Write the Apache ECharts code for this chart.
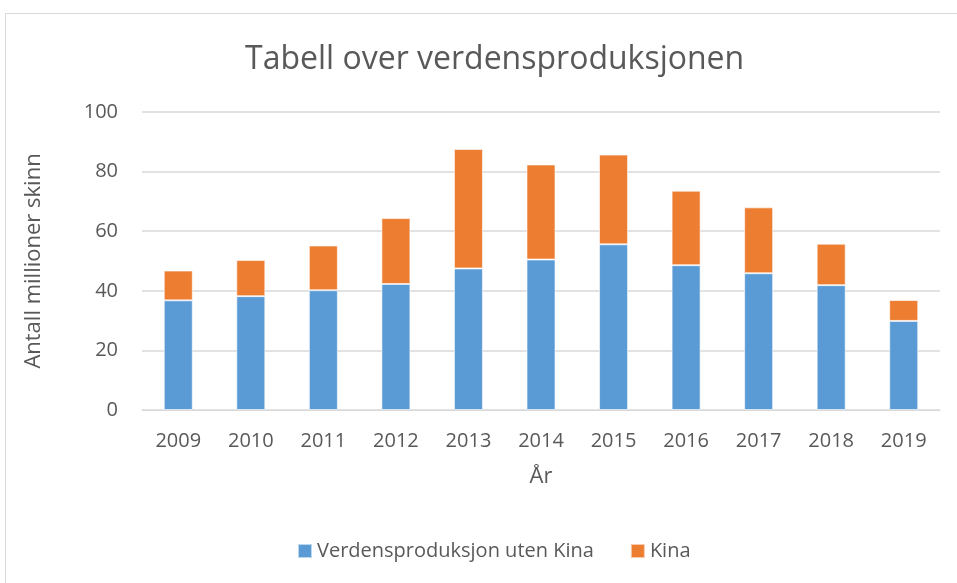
<!DOCTYPE html>
<html><head><meta charset="utf-8">
<script src="https://cdn.jsdelivr.net/npm/echarts@6/dist/echarts.min.js"></script>
<style>html,body{margin:0;padding:0;background:#fff}#c{width:957px;height:583px}</style>
</head><body><div id="c"></div>
<script>
const years = ['2009','2010','2011','2012','2013','2014','2015','2016','2017','2018','2019'];
const utenKina = [36.8, 38.2, 40.2, 42.3, 47.5, 50.5, 55.6, 48.6, 45.9, 41.9, 29.9];
const kina = [10.0, 12.1, 15.0, 22.1, 40.1, 31.9, 30.1, 25.0, 22.1, 13.9, 7.0];
const yTicks = [0, 20, 40, 60, 80, 100];

const font = 'Open Sans';
const txt = '#595959';
const chart = echarts.init(document.getElementById('c'), null, {renderer:'canvas'});
chart.setOption({
  animation: false,
  backgroundColor: '#fff',
  graphic: [{type:'rect', shape:{x:5.5,y:13.5,width:960,height:580}, style:{fill:'none', stroke:'#d9d9d9', lineWidth:1}, silent:true}],
  title: {text:'Tabell over verdensproduksjonen', left:240, top:39,
    textStyle:{fontFamily:font, fontSize:32, fontWeight:'normal', color:txt}},
  legend: {bottom:17, left:292, itemWidth:14, itemHeight:14, itemGap:36, icon:'rect',
    textStyle:{fontFamily:font, fontSize:20, color:txt}},
  grid: {left:142, right:17, top:112, bottom:173},
  xAxis: {type:'category', data:years, name:'År', nameLocation:'middle', nameGap:56,
    nameTextStyle:{fontFamily:font, fontSize:22, color:txt},
    axisLine:{lineStyle:{color:'#d9d9d9'}}, axisTick:{show:false},
    axisLabel:{fontFamily:font, fontSize:20, color:txt, margin:21}},
  yAxis: {type:'value', min:yTicks[0], max:yTicks[yTicks.length-1], interval:20,
    name:'Antall millioner skinn', nameLocation:'middle', nameGap:97, nameRotate:90,
    nameTextStyle:{fontFamily:font, fontSize:22, color:txt},
    axisLine:{show:false}, axisTick:{show:false},
    axisLabel:{fontFamily:font, fontSize:20, color:txt, margin:24},
    splitLine:{lineStyle:{color:'#d9d9d9', width:1.5}}},
  series: [
    {name:'Verdensproduksjon uten Kina', type:'bar', stack:'a', data:utenKina, barWidth:'40%',
      itemStyle:{color:'#5B9BD5', borderColor:'rgba(255,255,255,0.6)', borderWidth:1}},
    {name:'Kina', type:'bar', stack:'a', data:kina, barWidth:'40%',
      itemStyle:{color:'#ED7D31', borderColor:'rgba(255,255,255,0.6)', borderWidth:1}}
  ]
});
</script></body></html>
